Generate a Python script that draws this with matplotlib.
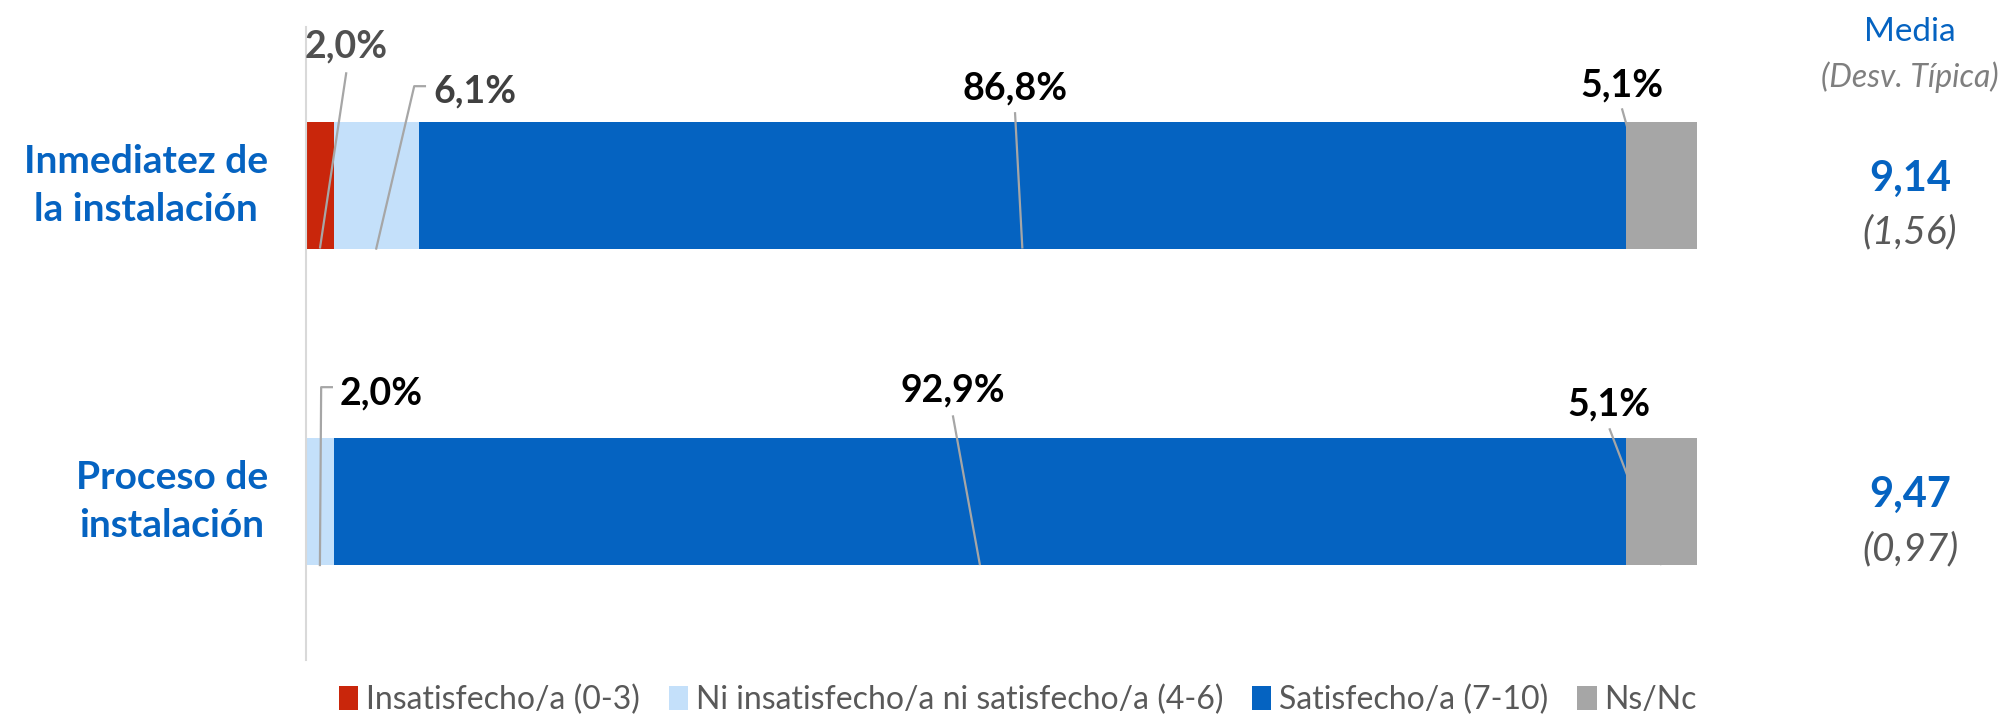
import numpy as np
import matplotlib.pyplot as plt
import matplotlib.transforms as mtransforms
from matplotlib.patches import Patch

plt.rcParams['font.family'] = ['Lato', 'DejaVu Sans']

# data
categories = ['Inmediatez de\nla instalación', 'Proceso de\ninstalación']
series_names = ['Insatisfecho/a (0-3)', 'Ni insatisfecho/a ni satisfecho/a (4-6)',
                'Satisfecho/a (7-10)', 'Ns/Nc']
insatisfecho = [2.0, 0.0]
ni_ni = [6.1, 2.0]
satisfecho = [86.8, 92.9]
nsnc = [5.1, 5.1]
media = ['9,14', '9,47']
desv = ['(1,56)', '(0,97)']

colors = ['#C9260B', '#C4E0FA', '#0563C1', '#A6A6A6']
blue_txt = '#0563C1'

# label layout: (bar, series) -> text x, text y, leader start y, elbow, text colour
label_pos = {
    (0, 0): (2.9, -0.44, -0.357, False, '#505050'),
    (0, 1): (9.13, -0.296, -0.313, True, '#404040'),
    (0, 2): (50.97, -0.305, -0.231, False, 'black'),
    (0, 3): (94.6, -0.315, -0.243, False, 'black'),
    (1, 1): (2.44, 0.658, 0.638, True, 'black'),
    (1, 2): (46.5, 0.65, 0.727, False, 'black'),
    (1, 3): (93.7, 0.692, 0.768, False, 'black'),
}

fig = plt.figure(figsize=(20.06, 7.15), dpi=100)
ax = fig.add_axes([306/2006, 1-660/715, 1391/2006, 633/715])

ypos = np.arange(len(categories))
bar_h = 0.4
series = [insatisfecho, ni_ni, satisfecho, nsnc]
left = np.zeros(len(categories))
for k, vals in enumerate(series):
    vals = np.array(vals)
    ax.barh(ypos, vals, left=left, height=bar_h, color=colors[k], edgecolor='none', zorder=2)
    for i, v in enumerate(vals):
        if (i, k) not in label_pos:
            continue
        tx, ty, ly, elbow, tc = label_pos[(i, k)]
        cx = left[i] + v/2
        bottom = ypos[i] + bar_h/2
        txt = ('%.1f%%' % v).replace('.', ',')
        if elbow:
            ax.text(tx, ty, txt, ha='left', va='center', fontsize=27, fontweight='bold', color=tc, zorder=5)
            ax.plot([tx-0.58, tx-1.35, cx], [ly, ly, bottom], color='#A6A6A6', lw=1.6, zorder=4)
        else:
            ax.text(tx, ty, txt, ha='center', va='center', fontsize=27, fontweight='bold', color=tc, zorder=5)
            ax.plot([tx, cx], [ly, bottom], color='#A6A6A6', lw=1.6, zorder=4,
                    solid_capstyle='butt')
    left = left + vals

ax.set_xlim(0, 100)
ax.set_ylim(1.5, -0.5)
for s in ['top', 'right', 'bottom']:
    ax.spines[s].set_visible(False)
ax.spines['left'].set_color('#D9D9D9')
ax.spines['left'].set_linewidth(1.5)
ax.set_xticks([])
ax.set_yticks([])

# category labels
trans = mtransforms.blended_transform_factory(fig.transFigure, ax.transData)
for i, cat in enumerate(categories):
    fig.text(268/2006, ypos[i], cat, transform=trans, ha='right', va='center',
             multialignment='center', fontsize=28, fontweight='bold', color=blue_txt,
             linespacing=1.45)

# media / desviacion
xm = 1910/2006
fig.text(xm, 1-32/715, 'Media', ha='center', va='center', fontsize=24, color=blue_txt)
fig.text(xm, 1-77/715, '(Desv. Típica)', ha='center', va='center', fontsize=23,
         style='italic', color='#7F7F7F')
for i in range(len(categories)):
    fig.text(xm, ypos[i]-0.02, media[i], transform=trans, ha='center', va='center',
             fontsize=30, fontweight='bold', color=blue_txt)
    fig.text(xm, ypos[i]+0.15, desv[i], transform=trans, ha='center', va='center',
             fontsize=28, style='italic', color='#595959')

handles = [Patch(facecolor=c, edgecolor='none') for c in colors]
leg = fig.legend(handles, series_names, loc='center', bbox_to_anchor=(1018/2006, 1-700/715),
                 ncol=4, frameon=False, handlelength=0.6, handleheight=0.75,
                 handletextpad=0.25, columnspacing=0.9, borderaxespad=0,
                 prop={'family': ['Lato', 'DejaVu Sans'], 'size': 23})
for t in leg.get_texts():
    t.set_color('#595959')

fig.savefig('out.png', dpi=100)
